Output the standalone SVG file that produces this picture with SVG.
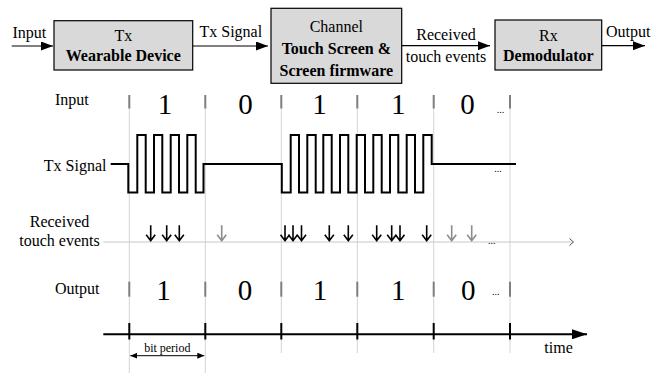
<svg xmlns="http://www.w3.org/2000/svg" width="657" height="373" viewBox="0 0 657 373" font-family="'Liberation Serif', 'Times New Roman', 'DejaVu Serif', serif">
<defs>
<style>
text{font-family:'Liberation Serif','Times New Roman','DejaVu Serif',serif;fill:#000}
.t16{font-size:16px}
.b16{font-size:16px;font-weight:bold}
.dig{font-size:29px}
.dots{font-size:10px}
.box{fill:#d9d9d9;stroke:#000;stroke-width:1.2}
.ln{stroke:#000;stroke-width:1.2;fill:none}
.grid{stroke:#d4d4d4;stroke-width:1}
.tick{stroke:#7f7f7f;stroke-width:2}
.ev{stroke:#000;stroke-width:1.6;fill:none}
.evg{stroke:#8c8c8c;stroke-width:1.6;fill:none}
</style>
<marker id="ah" markerWidth="12" markerHeight="9" refX="12" refY="4.5" orient="auto" markerUnits="userSpaceOnUse"><path d="M0,0L12,4.5L0,9Z" fill="#000"/></marker>
<marker id="ahb" markerWidth="15" markerHeight="10" refX="15" refY="5" orient="auto" markerUnits="userSpaceOnUse"><path d="M0,0L15,5L0,10Z" fill="#000"/></marker>
<marker id="ahs" markerWidth="7" markerHeight="6" refX="7" refY="3" orient="auto-start-reverse" markerUnits="userSpaceOnUse"><path d="M0,0L7,3L0,6Z" fill="#000"/></marker>
<path id="arr" d="M0,-15.5V0M-4.5,-6L0,0L4.5,-6"/>
</defs>

<g id="blocks">
<g id="tx"><rect class="box" x="54" y="20.7" width="138.7" height="49.3"/><text class="t16" x="123.3" y="41" text-anchor="middle">Tx</text><text class="b16" x="123.3" y="61" text-anchor="middle">Wearable Device</text></g>
<g id="channel"><rect class="box" x="271" y="8.3" width="130.7" height="75"/><text class="t16" x="336.3" y="31.5" text-anchor="middle">Channel</text><text class="b16" x="336.3" y="53.5" text-anchor="middle">Touch Screen &amp;</text><text class="b16" x="336.3" y="75.5" text-anchor="middle">Screen firmware</text></g>
<g id="rx"><rect class="box" x="495" y="20" width="106.7" height="50"/><text class="t16" x="548.3" y="41" text-anchor="middle">Rx</text><text class="b16" x="548.3" y="61" text-anchor="middle">Demodulator</text></g>
</g>

<g id="connectors">
<line class="ln" x1="11.7" y1="46" x2="53" y2="46" marker-end="url(#ah)"/>
<line class="ln" x1="192.7" y1="46" x2="268" y2="46" marker-end="url(#ah)"/>
<line class="ln" x1="401.7" y1="45.7" x2="490" y2="45.7" marker-end="url(#ah)"/>
<line class="ln" x1="601.7" y1="45.7" x2="645" y2="45.7" marker-end="url(#ah)"/>
<text class="t16" x="12.5" y="37.5">Input</text>
<text class="t16" x="199.5" y="37">Tx Signal</text>
<text class="t16" x="446" y="40" text-anchor="middle">Received</text>
<text class="t16" x="446" y="61.7" text-anchor="middle">touch events</text>
<text class="t16" x="606" y="36.5">Output</text>
</g>

<g id="grid">
<line class="grid" x1="129.3" y1="95" x2="129.3" y2="373"/>
<line class="grid" x1="205.3" y1="95" x2="205.3" y2="373"/>
<line class="grid" x1="281.3" y1="95" x2="281.3" y2="353"/>
<line class="grid" x1="357.3" y1="95" x2="357.3" y2="353"/>
<line class="grid" x1="433.7" y1="95" x2="433.7" y2="353"/>
<line class="grid" x1="510" y1="95" x2="510" y2="353"/>
</g>

<g id="input-row">
<text class="t16" x="55" y="105">Input</text>
<g class="tick"><line x1="129.3" y1="95" x2="129.3" y2="108.5"/><line x1="205.3" y1="95" x2="205.3" y2="108.5"/><line x1="281.3" y1="95" x2="281.3" y2="108.5"/><line x1="357.3" y1="95" x2="357.3" y2="108.5"/><line x1="433.7" y1="95" x2="433.7" y2="108.5"/><line x1="510" y1="95" x2="510" y2="108.5"/></g>
<text class="dig" x="165" y="114" text-anchor="middle">1</text>
<text class="dig" x="245.5" y="114" text-anchor="middle">0</text>
<text class="dig" x="319.5" y="114" text-anchor="middle">1</text>
<text class="dig" x="398.3" y="114" text-anchor="middle">1</text>
<text class="dig" x="467.5" y="114" text-anchor="middle">0</text>
<text class="dots" x="500.5" y="113" text-anchor="middle">...</text>
</g>

<g id="tx-row">
<text class="t16" x="106.5" y="170.5" text-anchor="end">Tx Signal</text>
<path d="M110.7,164H128.3V192.5H137.3V135H145.7V192.5H154V135H162.3V192.5H170.7V135H179V192.5H187.3V135H195.7V192.5H203.5V164H281.8V192.5H290.7V135H299V192.5H307.3V135H315.7V192.5H323.3V135H331.7V192.5H340V135H348.3V192.5H356.7V135H365V192.5H373.3V135H381.7V192.5H390V135H398.3V192.5H406.7V135H415V192.5H423.3V135H431.7V164H516" fill="none" stroke="#000" stroke-width="2"/>
<text class="dots" x="498" y="172" text-anchor="middle">...</text>
</g>

<g id="events-row">
<text class="t16" x="59.5" y="226.7" text-anchor="middle">Received</text>
<text class="t16" x="59.5" y="245.7" text-anchor="middle">touch events</text>
<line x1="103.3" y1="242" x2="573" y2="242" stroke="#c8c8c8" stroke-width="1"/>
<path d="M569.5,238.5L573.5,242L569.5,245.5" fill="none" stroke="#555" stroke-width="1"/>
<g class="ev">
<use href="#arr" x="150.7" y="240.7"/><use href="#arr" x="166.7" y="240.7"/><use href="#arr" x="179.3" y="240.7"/>
<use href="#arr" x="285" y="240.7"/><use href="#arr" x="293" y="240.7"/><use href="#arr" x="301.5" y="240.7"/>
<use href="#arr" x="329.3" y="240.7"/><use href="#arr" x="348.3" y="240.7"/>
<use href="#arr" x="376.7" y="240.7"/><use href="#arr" x="391.7" y="240.7"/><use href="#arr" x="400" y="240.7"/><use href="#arr" x="426.7" y="240.7"/>
</g>
<g class="evg">
<use href="#arr" x="221.7" y="240.7"/><use href="#arr" x="451.7" y="240.7"/><use href="#arr" x="471.7" y="240.7"/>
</g>
<text class="dots" x="491.7" y="243.5" text-anchor="middle">...</text>
</g>

<g id="output-row">
<text class="t16" x="55" y="294">Output</text>
<g class="tick"><line x1="129.3" y1="281.7" x2="129.3" y2="296.7"/><line x1="205.3" y1="281.7" x2="205.3" y2="296.7"/><line x1="281.3" y1="281.7" x2="281.3" y2="296.7"/><line x1="357.3" y1="281.7" x2="357.3" y2="296.7"/><line x1="433.7" y1="281.7" x2="433.7" y2="296.7"/><line x1="510" y1="281.7" x2="510" y2="296.7"/></g>
<text class="dig" x="163.5" y="300" text-anchor="middle">1</text>
<text class="dig" x="245" y="300" text-anchor="middle">0</text>
<text class="dig" x="320" y="300" text-anchor="middle">1</text>
<text class="dig" x="398.3" y="300" text-anchor="middle">1</text>
<text class="dig" x="468.3" y="300" text-anchor="middle">0</text>
<text class="dots" x="495.7" y="295" text-anchor="middle">...</text>
</g>

<g id="time-axis">
<line x1="103.3" y1="334.3" x2="587" y2="334.3" stroke="#000" stroke-width="2" marker-end="url(#ahb)"/>
<g stroke="#000" stroke-width="2"><line x1="129.3" y1="323" x2="129.3" y2="339.5"/><line x1="205.3" y1="323" x2="205.3" y2="339.5"/><line x1="281.3" y1="323" x2="281.3" y2="339.5"/><line x1="357.3" y1="323" x2="357.3" y2="339.5"/><line x1="433.7" y1="323" x2="433.7" y2="339.5"/><line x1="510" y1="323" x2="510" y2="339.5"/></g>
<text class="t16" x="544.3" y="353.3">time</text>
<line x1="130.3" y1="355.7" x2="204.3" y2="355.7" stroke="#000" stroke-width="1" marker-start="url(#ahs)" marker-end="url(#ahs)"/>
<text x="167.3" y="351.5" text-anchor="middle" style="font-size:12px">bit period</text>
</g>
</svg>
